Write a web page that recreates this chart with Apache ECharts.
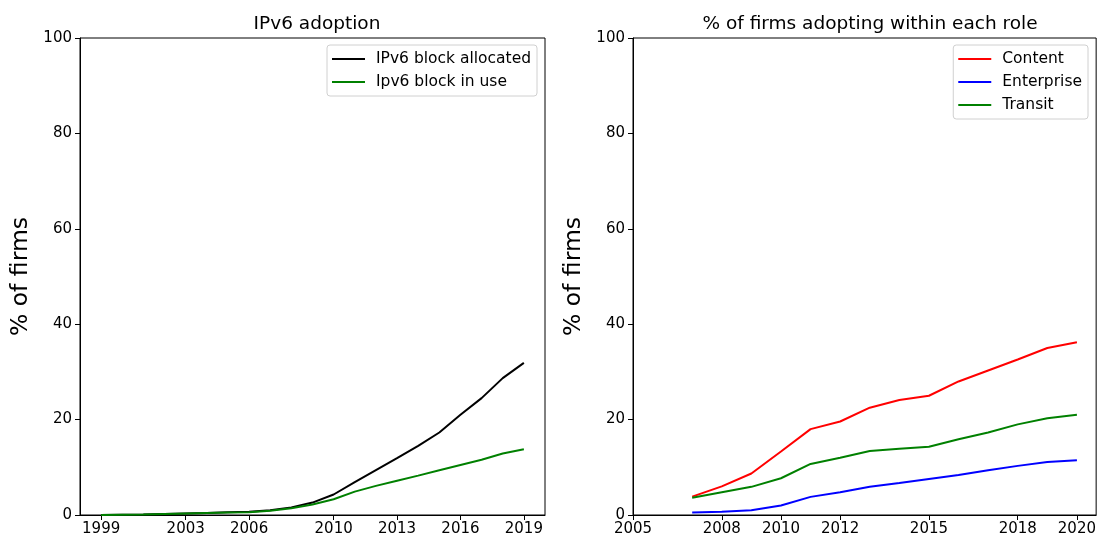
<!DOCTYPE html>
<html>
<head>
<meta charset="utf-8">
<script src="https://cdn.jsdelivr.net/npm/echarts@6/dist/echarts.min.js"></script>
<style>
  html, body { margin: 0; padding: 0; background: #fff; }
  #chart { width: 1099px; height: 540px; }
</style>
</head>
<body>
<div id="chart"></div>
<script>
// IPv6 adoption overall, by year
const yearsAll = [1999, 2000, 2001, 2002, 2003, 2004, 2005, 2006, 2007, 2008, 2009,
                  2010, 2011, 2012, 2013, 2014, 2015, 2016, 2017, 2018, 2019];
const allocated = [0, 0.05, 0.1, 0.2, 0.3, 0.4, 0.6, 0.7, 1.0, 1.6, 2.6,
                   4.3, 6.9, 9.4, 11.9, 14.5, 17.3, 21.0, 24.5, 28.7, 31.9];
const inUse = [0, 0.05, 0.1, 0.2, 0.3, 0.4, 0.5, 0.6, 0.9, 1.4, 2.2,
               3.3, 4.9, 6.1, 7.2, 8.25, 9.4, 10.5, 11.6, 12.9, 13.8];

// Adoption within each role
const yearsRole = [2007, 2008, 2009, 2010, 2011, 2012, 2013, 2014, 2015, 2016, 2017, 2018, 2019, 2020];
const content = [3.85, 6.0, 8.7, 13.3, 18.0, 19.6, 22.5, 24.1, 25.0, 28.0, 30.3, 32.6, 35.0, 36.2];
const enterprise = [0.5, 0.7, 1.0, 2.0, 3.8, 4.75, 5.9, 6.7, 7.55, 8.4, 9.4, 10.3, 11.1, 11.5];
const transit = [3.6, 4.75, 5.9, 7.7, 10.7, 12.0, 13.4, 13.9, 14.3, 15.9, 17.3, 19.0, 20.3, 21.0];

const ticksLeft = [1999, 2003, 2006, 2010, 2013, 2016, 2019];
const ticksRight = [2005, 2008, 2010, 2012, 2015, 2018, 2020];

const FONT = 'DejaVu Sans';
const TICK_FONT = 15;
const pairs = (xs, ys) => xs.map((x, i) => [x, ys[i]]);

const chart = echarts.init(document.getElementById('chart'), null, { renderer: 'canvas' });

function xAxis(idx, min, max, ticks) {
  return {
    type: 'value', gridIndex: idx, min: min, max: max,
    splitLine: { show: false },
    axisLine: { show: true, onZero: false, lineStyle: { color: '#000', width: 1 } },
    axisTick: { show: true, inside: false, length: 5, customValues: ticks, lineStyle: { color: '#000', width: 1 } },
    axisLabel: { show: true, customValues: ticks, color: '#000', fontFamily: FONT, fontSize: TICK_FONT, margin: 7,
                 formatter: v => String(v) }
  };
}
function yAxis(idx) {
  return {
    type: 'value', gridIndex: idx, min: 0, max: 100, interval: 20,
    name: '% of firms', nameLocation: 'middle', nameGap: 47,
    nameTextStyle: { fontFamily: FONT, fontSize: 23.5, color: '#000' },
    splitLine: { show: false },
    axisLine: { show: true, lineStyle: { color: '#000', width: 1 } },
    axisTick: { show: true, inside: false, length: 5, lineStyle: { color: '#000', width: 1 } },
    axisLabel: { color: '#000', fontFamily: FONT, fontSize: TICK_FONT, margin: 8 }
  };
}
function line(name, xi, data, color) {
  return {
    name: name, type: 'line', xAxisIndex: xi, yAxisIndex: xi, data: data,
    showSymbol: false, symbol: 'none', smooth: false,
    lineStyle: { color: color, width: 2 }, itemStyle: { color: color },
    emphasis: { disabled: true }, animation: false
  };
}
function legend(names, right, top) {
  return {
    data: names, orient: 'vertical', right: right, top: top,
    icon: 'rect', itemWidth: 33, itemHeight: 2, itemGap: 5,
    backgroundColor: '#fff', borderColor: '#d0d0d0', borderWidth: 1, borderRadius: 3,
    padding: [5, 6, 5, 5],
    textStyle: { fontFamily: FONT, fontSize: 15.5, color: '#000', lineHeight: 18, padding: [0, 0, 0, 6] }
  };
}

chart.setOption({
  animation: false,
  backgroundColor: '#fff',
  title: [
    { text: 'IPv6 adoption', left: 312, top: 10, textAlign: 'center',
      textStyle: { fontFamily: FONT, fontSize: 18.5, fontWeight: 'normal', color: '#000' } },
    { text: '% of firms adopting within each role', left: 865, top: 10, textAlign: 'center',
      textStyle: { fontFamily: FONT, fontSize: 18.5, fontWeight: 'normal', color: '#000' } }
  ],
  grid: [
    { left: 80, right: 554, top: 38, bottom: 25, show: true, borderColor: '#000', borderWidth: 1, backgroundColor: 'transparent' },
    { left: 633, right: 2, top: 38, bottom: 25, show: true, borderColor: '#000', borderWidth: 1, backgroundColor: 'transparent' }
  ],
  xAxis: [xAxis(0, 1998, 2020, ticksLeft), xAxis(1, 2005, 2020.65, ticksRight)],
  yAxis: [yAxis(0), yAxis(1)],
  legend: [
    legend(['IPv6 block allocated', 'Ipv6 block in use'], 1099 - 537, 45),
    legend(['Content', 'Enterprise', 'Transit'], 1099 - 1088, 45)
  ],
  series: [
    line('IPv6 block allocated', 0, pairs(yearsAll, allocated), '#000000'),
    line('Ipv6 block in use', 0, pairs(yearsAll, inUse), '#008000'),
    line('Content', 1, pairs(yearsRole, content), '#ff0000'),
    line('Enterprise', 1, pairs(yearsRole, enterprise), '#0000ff'),
    line('Transit', 1, pairs(yearsRole, transit), '#008000')
  ]
});
</script>
</body>
</html>
